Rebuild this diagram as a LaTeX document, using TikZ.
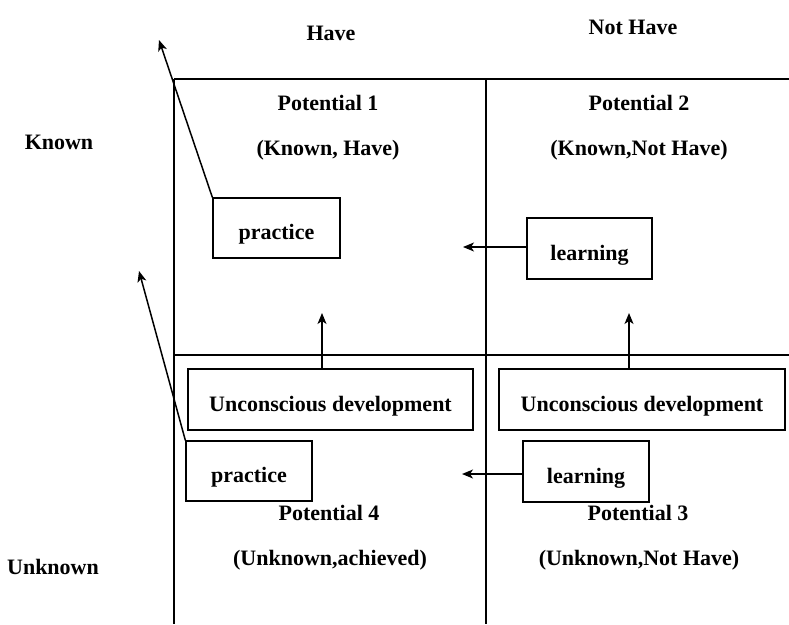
\documentclass[tikz,border=0pt]{standalone}
\usepackage{fontspec}
\setmainfont{Liberation Serif}
\usetikzlibrary{arrows.meta}
\tikzset{
    lbl/.style={inner sep=0pt, font=\fontsize{22}{25}\selectfont\bfseries},
    box/.style={draw, line width=1.3pt, inner sep=0pt, text height=23pt, text depth=0pt,
        font=\fontsize{22}{25}\selectfont\bfseries},
    grid/.style={line width=1.6pt},
    arr/.style={line width=1.5pt, -{Stealth[length=11pt,width=9pt,inset=3pt]}}
}
\begin{document}
\begin{tikzpicture}[x=1pt,y=-1pt]
        \useasboundingbox (0,0) rectangle (789,624);
        % quadrant lines
        \draw[grid] (174,79) -- (789,79);
        \draw[grid] (174,355) -- (789,355);
        \draw[grid] (174,79) -- (174,624);
        \draw[grid] (486,79) -- (486,624);
        % axis labels
        \node[lbl] (have) at (331,33) {Have};
        \node[lbl] (nothave) at (633,27) {Not Have};
        \node[lbl] (known) at (59,142) {Known};
        \node[lbl] (unknown) at (53,567) {Unknown};
        % quadrant titles
        \node[lbl] (pot1) at (328,103) {Potential 1};
        \node[lbl] (pot1sub) at (328,150) {(Known, Have)};
        \node[lbl] (pot2) at (639,103) {Potential 2};
        \node[lbl] (pot2sub) at (639,150) {(Known,Not Have)};
        \node[lbl] (pot4) at (329,513) {Potential 4};
        \node[lbl] (pot4sub) at (330,560) {(Unknown,achieved)};
        \node[lbl] (pot3) at (638,513) {Potential 3};
        \node[lbl] (pot3sub) at (639,560) {(Unknown,Not Have)};
        % boxes
        \node[box, minimum width=127pt, minimum height=60pt] (prac1) at (276.5,228) {practice};
        \node[box, minimum width=125pt, minimum height=61pt] (learn1) at (589.5,248.5) {learning};
        \node[box, minimum width=285pt, minimum height=61pt] (dev1) at (330.5,399.5) {Unconscious development};
        \node[box, minimum width=286pt, minimum height=61pt] (dev2) at (642,399.5) {Unconscious development};
        \node[box, minimum width=126pt, minimum height=60pt] (prac2) at (249,471) {practice};
        \node[box, minimum width=126pt, minimum height=61pt] (learn2) at (586,471.5) {learning};
        % arrow ends
        \coordinate (out1) at (159,40);
        \coordinate (out2) at (139,271);
        \coordinate (up1) at (322,313);
        \coordinate (up2) at (629,313);
        \coordinate (left1) at (463,247);
        \coordinate (left2) at (462,474);
        % arrows
        \draw[arr] (prac1.north west) -- (out1);
        \draw[arr] (prac2.north west) -- (out2);
        \draw[arr] (dev1.north -| up1) -- (up1);
        \draw[arr] (dev2.north -| up2) -- (up2);
        \draw[arr] (learn1.west |- left1) -- (left1);
        \draw[arr] (learn2.west |- left2) -- (left2);
    \end{tikzpicture}
\end{document}
